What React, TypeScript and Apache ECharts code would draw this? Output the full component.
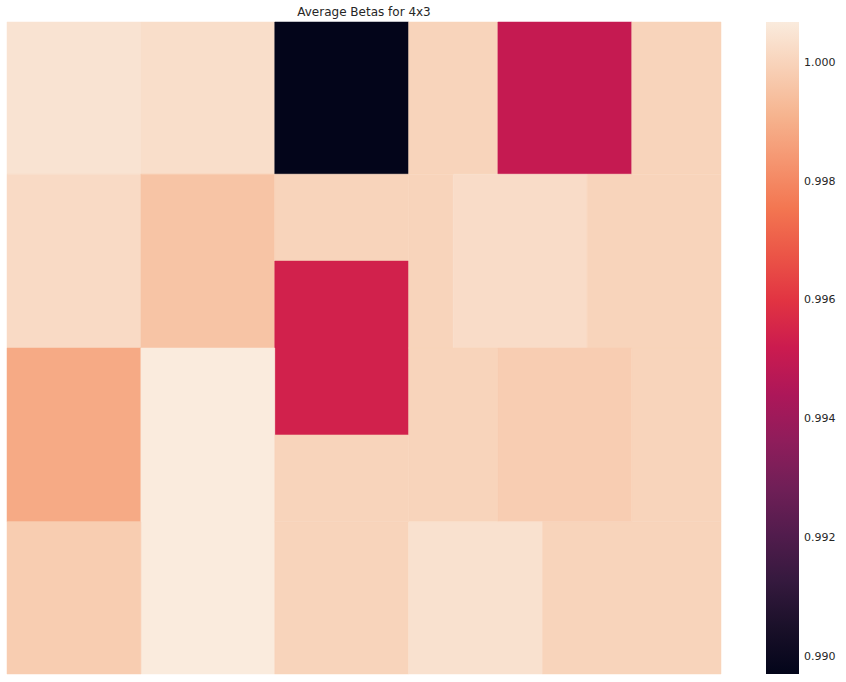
import React, { useEffect, useRef } from "react";
import * as echarts from "echarts";

// Heatmap blocks in grid units (x: 0..16 left→right, y: 0..30 top→bottom)
const cellX0 = [0, 3, 6, 9, 11, 14, 0, 3, 6, 6, 9, 10, 13, 0, 3, 6, 9, 11, 14, 0, 6, 9, 12];
const cellX1 = [3, 6, 9, 11, 14, 16, 3, 6, 9, 9, 10, 13, 16, 3, 6, 9, 11, 14, 16, 3, 9, 12, 16];
const cellY0 = [0, 0, 0, 0, 0, 0, 7, 7, 7, 11, 7, 7, 7, 15, 15, 19, 15, 15, 15, 23, 23, 23, 23];
const cellY1 = [7, 7, 7, 7, 7, 7, 15, 15, 11, 19, 15, 15, 15, 23, 30, 23, 23, 23, 23, 30, 30, 30, 30];
const betaValues = [
  1.00045, 1.0003, 0.9897, 1.0, 0.99504, 1.0,
  1.0002, 0.99955, 1.0, 0.9954, 1.0, 1.00025, 1.0,
  0.99885, 1.00068, 1.0, 1.0, 0.99982, 1.0,
  0.9998, 1.0, 1.0004, 1.0,
];

const colorMin = 0.9897;
const colorMax = 1.00068;
const colorbarTicks = [0.99, 0.992, 0.994, 0.996, 0.998, 1.0];
const rocketStops = [
  "#03051A", "#1A1029", "#35193E", "#521C4D", "#701F57", "#8F1D5B", "#AD1759", "#CB1B4F",
  "#E13342", "#EB5547", "#F37651", "#F59570", "#F6B48F", "#F8D0B6", "#FAEBDD",
];
const titleText = "Average Betas for 4x3";

export default function App() {
  const ref = useRef<HTMLDivElement>(null);
  useEffect(() => {
    if (!ref.current) return;
    const chart = echarts.init(ref.current, null, { renderer: "svg" });
    const data = betaValues.map((v, i) => [cellX0[i], cellX1[i], cellY0[i], cellY1[i], v]);
    const txt = "#262626";
    chart.setOption({
      animation: false,
      backgroundColor: "#ffffff",
      graphic: [
        {
          type: "text",
          x: 364,
          y: 12,
          style: {
            text: titleText,
            fill: txt,
            font: "12px 'DejaVu Sans'",
            textAlign: "center",
            textVerticalAlign: "middle",
          },
        },
      ],
      grid: [
        { left: 7, top: 22, width: 714, height: 652 },
        { left: 766, top: 22, width: 33, height: 652 },
      ],
      xAxis: [
        { type: "value", gridIndex: 0, min: 0, max: 16, show: false },
        { type: "value", gridIndex: 1, min: 0, max: 1, show: false },
      ],
      yAxis: [
        { type: "value", gridIndex: 0, min: 0, max: 30, inverse: true, show: false },
        {
          type: "value",
          gridIndex: 1,
          min: colorMin,
          max: colorMax,
          position: "right",
          axisLine: { show: false },
          splitLine: { show: false },
          axisTick: {
            show: true,
            length: 4,
            customValues: colorbarTicks,
            lineStyle: { color: txt, width: 1 },
          },
          axisLabel: {
            customValues: colorbarTicks,
            formatter: (v: number) => v.toFixed(3),
            color: txt,
            fontSize: 11,
            fontFamily: "DejaVu Sans",
            margin: 5,
          },
        },
      ],
      visualMap: {
        type: "continuous",
        show: false,
        min: colorMin,
        max: colorMax,
        dimension: 4,
        seriesIndex: 0,
        inRange: { color: rocketStops },
      },
      series: [
        {
          type: "custom",
          xAxisIndex: 0,
          yAxisIndex: 0,
          encode: { x: [0, 1], y: [2, 3] },
          data,
          renderItem: (params: any, api: any) => {
            const p0 = api.coord([api.value(0), api.value(2)]);
            const p1 = api.coord([api.value(1), api.value(3)]);
            const color = api.visual("color");
            return {
              type: "rect",
              shape: {
                x: Math.min(p0[0], p1[0]),
                y: Math.min(p0[1], p1[1]),
                width: Math.abs(p1[0] - p0[0]),
                height: Math.abs(p1[1] - p0[1]),
              },
              style: { fill: color, stroke: color, lineWidth: 0.5 },
            };
          },
        },
        {
          type: "custom",
          xAxisIndex: 1,
          yAxisIndex: 1,
          data: [[0, colorMin, 1, colorMax]],
          encode: { x: [0, 2], y: [1, 3] },
          renderItem: (params: any, api: any) => {
            const p0 = api.coord([api.value(0), api.value(1)]);
            const p1 = api.coord([api.value(2), api.value(3)]);
            return {
              type: "rect",
              shape: {
                x: Math.min(p0[0], p1[0]),
                y: Math.min(p0[1], p1[1]),
                width: Math.abs(p1[0] - p0[0]),
                height: Math.abs(p1[1] - p0[1]),
              },
              style: {
                fill: new echarts.graphic.LinearGradient(
                  0,
                  1,
                  0,
                  0,
                  rocketStops.map((c, i) => ({ offset: i / (rocketStops.length - 1), color: c }))
                ),
              },
            };
          },
        },
      ],
    });
    return () => chart.dispose();
  }, []);
  return (
    <div
      ref={ref}
      style={{ position: "fixed", left: 0, top: 0, width: 846, height: 682 }}
    />
  );
}
